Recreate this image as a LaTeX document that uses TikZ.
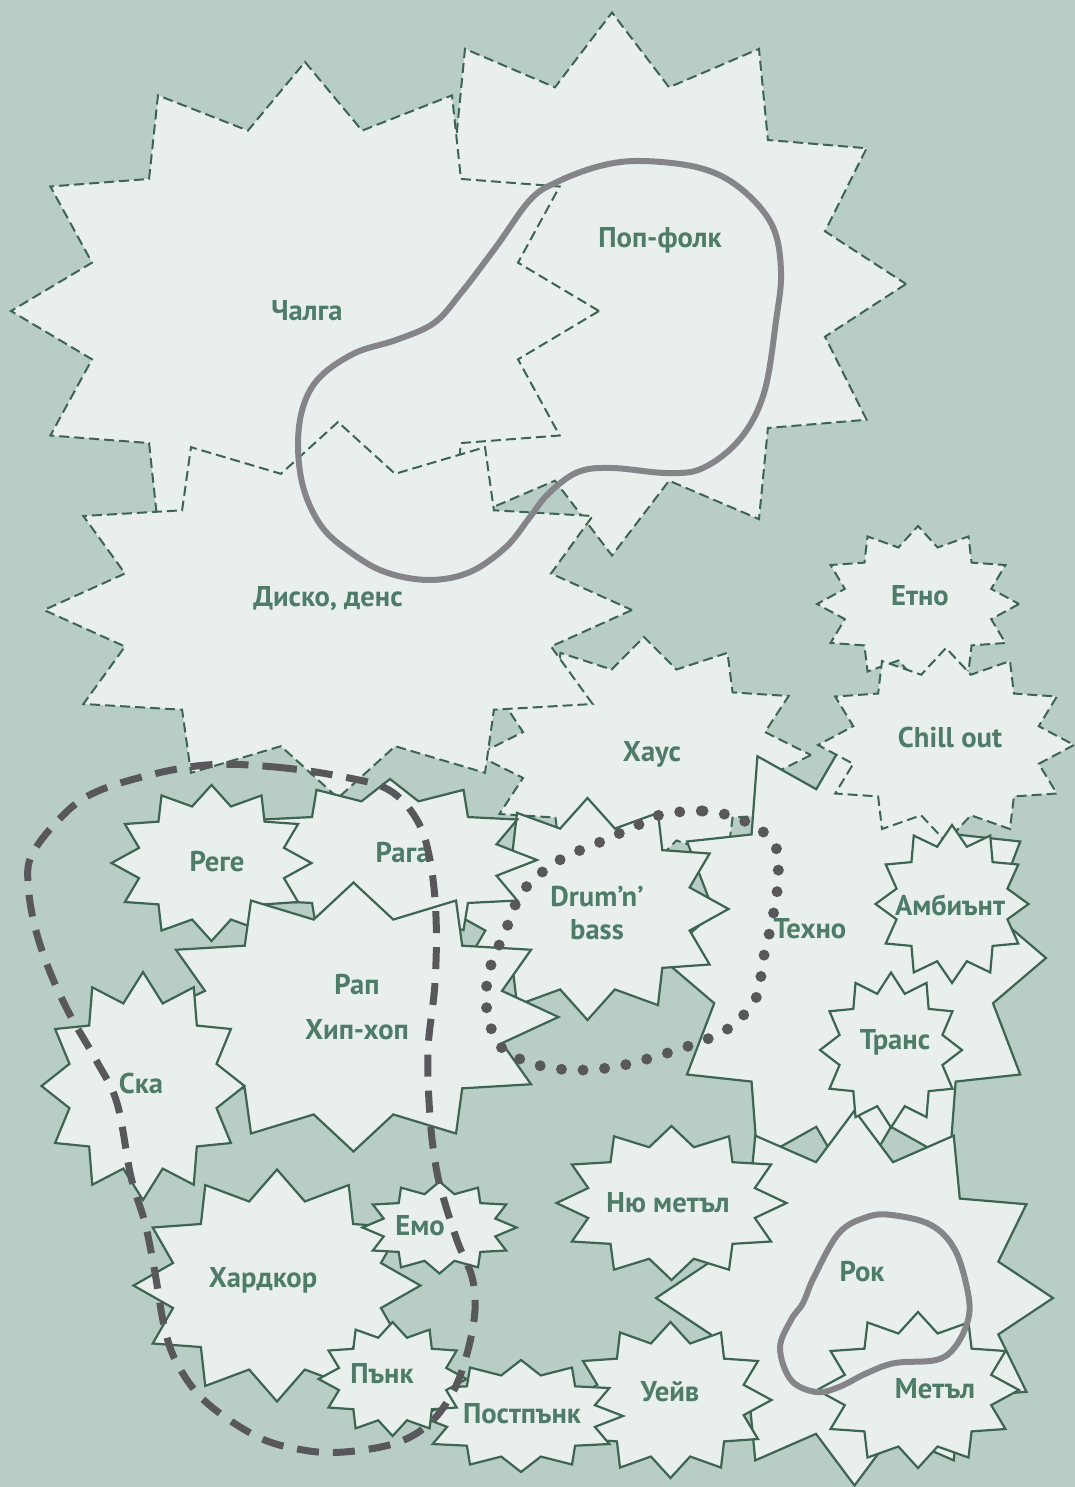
\documentclass[tikz,border=0pt]{standalone}
\usepackage{fontspec}
\setmainfont{PT Sans}

\definecolor{bgsage}{HTML}{B8CDC6}
\definecolor{burstfill}{HTML}{E8EFEC}
\definecolor{burstline}{HTML}{3D6552}
\definecolor{genretext}{HTML}{4E7C69}
\definecolor{loopgrey}{HTML}{858589}
\definecolor{loopdark}{HTML}{58585B}

% 12-point burst: style, centre x, centre y, x radius, y radius
\newcommand{\genreburst}[5]{%
  \draw[#1] ({#2+#4},{#3})
    \foreach \k in {1,...,23}{
      -- ({#2+(1-0.25*mod(\k,2))*#4*cos(15*\k)},{#3+(1-0.25*mod(\k,2))*#5*sin(15*\k)})
    } -- cycle;}

\begin{document}
\begin{tikzpicture}[x=0.5pt, y=-0.5pt,
    solidburst/.style={draw=burstline, fill=burstfill, line width=1.1pt},
    dashburst/.style={solidburst, line width=1pt, dash pattern=on 5pt off 2.5pt},
    genre/.style={text=genretext, font=\bfseries\fontsize{14.3}{16.5}\selectfont, align=center, inner sep=0pt},
    ring/.style={draw=loopgrey, line width=3pt},
    dashring/.style={draw=loopdark, line width=3.5pt, dash pattern=on 11pt off 7pt},
    dotring/.style={draw=loopdark, line width=5.5pt, line cap=round, dash pattern=on 0pt off 10.8pt}
]

% Background
\fill[bgsage] (0,0) rectangle (1075,1487);
\useasboundingbox (0,0) rectangle (1075,1487);

% Dashed bursts, back to front
\genreburst{dashburst}{918}{604}{101}{78}
\genreburst{dashburst}{612}{284}{294}{271.5}
\genreburst{dashburst}{305}{311}{294}{249}
\genreburst{dashburst}{644}{755}{167}{118}
\genreburst{dashburst}{338}{610}{294}{188}

% Techno, Chill out and the right column
\genreburst{solidburst}{853.6}{958}{192.4}{233}
\genreburst{dashburst}{946}{745}{128}{97}
\genreburst{solidburst}{952}{904}{76.5}{79}

% Middle group
\genreburst{solidburst}{587.5}{909}{141}{111}
\genreburst{solidburst}{390}{860}{147}{81}
\genreburst{solidburst}{211.5}{863}{100}{78}
\genreburst{solidburst}{353.5}{1017}{205}{134.5}
\genreburst{solidburst}{143}{1086}{101.5}{114}

% Rock group
\genreburst{solidburst}{854.5}{1298}{198.5}{187.5}
\genreburst{solidburst}{891}{1050}{71}{77.5}
\genreburst{solidburst}{671.5}{1203}{115}{77}
\genreburst{solidburst}{918}{1390}{101}{78}
\genreburst{solidburst}{670.5}{1400}{101}{78}
\genreburst{solidburst}{521}{1416}{102}{56}

% Hardcore group
\genreburst{solidburst}{277}{1285.5}{143.5}{116}
\genreburst{solidburst}{439.5}{1227.5}{77}{46}
\genreburst{solidburst}{392.6}{1379}{74}{57}

% Labels
\node[genre] (chalga) at (307,311) {Чалга};
\node[genre] (popfolk) at (660,240) {Поп-фолк};
\node[genre] (disco) at (328,599) {Диско, денс};
\node[genre] (etno) at (920,596) {Етно};
\node[genre] (chill) at (950,737) {Chill out};
\node[genre] (house) at (652,754) {Хаус};
\node[genre] (reggae) at (217,862) {Реге};
\node[genre] (ragga) at (403,852) {Рага};
\node[genre] (dnb) at (597,913.5) {Drum’n’\\bass};
\node[genre] (techno) at (810,929) {Техно};
\node[genre] (ambient) at (950,905) {Амбиънт};
\node[genre] (rap) at (357,1007.5) {Рап\\[6pt]Хип-хоп};
\node[genre] (trance) at (895,1042) {Транс};
\node[genre] (ska) at (141,1083) {Ска};
\node[genre] (numetal) at (668,1203) {Ню метъл};
\node[genre] (emo) at (420,1226) {Емо};
\node[genre] (hardcore) at (263,1280) {Хардкор};
\node[genre] (rock) at (862,1272) {Рок};
\node[genre] (punk) at (382,1374) {Пънк};
\node[genre] (wave) at (670,1392) {Уейв};
\node[genre] (metal) at (935,1389) {Метъл};
\node[genre] (postpunk) at (522,1414) {Постпънк};

% Loops around families
\draw[ring] plot[smooth cycle, tension=0.6] coordinates {
  (642,161) (700,168) (740,188) (772,225) (781,271) (776,321) (764,393)
  (740,439) (703,468) (667,473) (612,468) (578,472) (549,493) (530,517)
  (506,547) (470,572) (429,580) (385,572) (350,552) (322,527) (304,490)
  (298,447) (303,407) (320,377) (355,353) (396,340) (434,323) (461,293)
  (496,247) (530,200) (557,182) (600,166)};
\draw[dashring] plot[smooth cycle, tension=0.6] coordinates {
  (206,765) (275,767) (344,777) (389,790) (417,820) (430,860) (436,917)
  (435,983) (428,1050) (430,1117) (436,1167) (444,1200) (458,1243)
  (472,1277) (475,1310) (468,1350) (454,1390) (430,1423) (396,1443)
  (344,1452) (303,1450) (258,1437) (207,1403) (179,1367) (165,1330)
  (155,1273) (145,1223) (131,1177) (117,1103) (96,1060) (69,1013)
  (48,967) (34,923) (28,883) (31,857) (52,827) (86,797) (138,778)};
\draw[dotring] plot[smooth cycle, tension=0.6] coordinates {
  (660,815) (703,811) (742,820) (774,843) (778,880) (772,921) (763,960)
  (756,998) (729,1028) (694,1044) (654,1057) (614,1067) (573,1070)
  (534,1064) (501,1047) (487,1011) (489,972) (505,932) (523,891)
  (558,861) (598,843) (638,825)};
\draw[ring] plot[smooth cycle, tension=0.6] coordinates {
  (892,1215) (931,1225) (955,1250) (968,1293) (968,1320) (955,1347)
  (936,1360) (895,1363) (867,1373) (839,1387) (816,1392) (791,1380)
  (780,1348) (791,1320) (803,1303) (814,1277) (839,1233) (867,1217)};

\end{tikzpicture}
\end{document}
